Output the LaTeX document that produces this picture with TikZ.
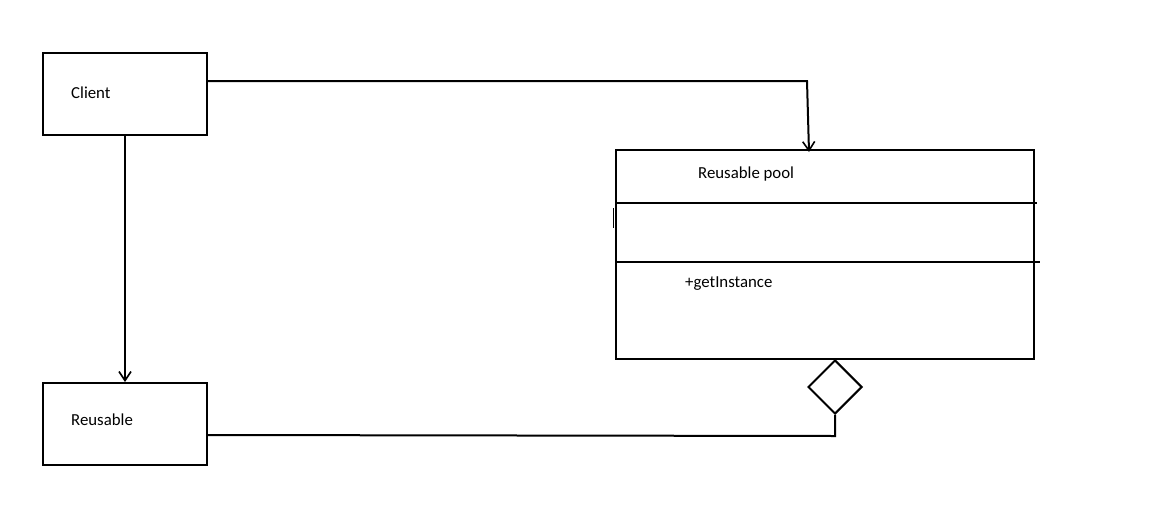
\documentclass[tikz,border=0pt]{standalone}
\usepackage{fontspec}
\setmainfont{Carlito}
\usetikzlibrary{shapes.geometric,arrows.meta}
\begin{document}
\begin{tikzpicture}[x=1pt,y=-1pt,
  box/.style={draw,line width=2pt,minimum width=164pt,minimum height=82pt,inner sep=0pt},
  lbl/.style={font=\fontsize{16.8pt}{19pt}\selectfont,inner sep=0pt,anchor=west},
  conn/.style={line width=2pt},
  arr/.style={conn,-{Straight Barb[length=9pt,width=12pt,line width=1.6pt]}}]
\useasboundingbox (0,0) rectangle (1153,522);
\node[box] (client) at (125,94) {};
\node[box] (reusable) at (125,424) {};
\node[draw,line width=2pt,minimum width=418pt,minimum height=209pt,inner sep=0pt] (pool) at (825,254.5) {};
\node[lbl] (tclient) at (71,92.5) {Client};
\node[lbl] (treusable) at (71,419.5) {Reusable};
\node[lbl] (tpool) at (698,174) {Reusable pool};
\node[lbl] (tget) at (685,284) {+getInstance};
\coordinate (d1a) at (616,203); \coordinate (d1b) at (1037,203);
\coordinate (d2a) at (616,262); \coordinate (d2b) at (1040,262);
\draw[line width=1.2pt] (d1a) -- (d1b);
\draw[line width=2pt] (d2a) -- (d2b);
\coordinate (ticka) at (613,208); \coordinate (tickb) at (613,228);
\draw[line width=1pt] (ticka) -- (tickb);
\node[draw,diamond,line width=2pt,minimum width=54pt,minimum height=54pt,inner sep=0pt,anchor=north] (dia) at (835,359) {};
% connectors
\coordinate (c1) at (207,81);
\coordinate (c2) at (807,81);
\coordinate (c3) at (809,152);
\draw[arr] (c1) -- (c2) -- (c3);
\draw[arr] (client.south) -- (reusable.north);
\coordinate (r1) at (207,435);
\coordinate (r2) at (835,436);
\draw[conn] (r1) -- (r2) -- (dia.south);
\end{tikzpicture}
\end{document}
